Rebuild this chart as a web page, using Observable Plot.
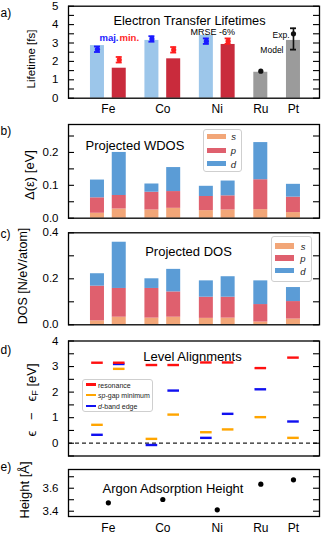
<!DOCTYPE html>
<html><head><meta charset="utf-8">
<script src="https://cdn.jsdelivr.net/npm/d3@7"></script>
<script src="https://cdn.jsdelivr.net/npm/@observablehq/plot@0.6"></script>
<style>
body{margin:0;background:#fff;font-family:"Liberation Sans",Arial,sans-serif;}
#root{position:relative;width:332px;height:534px;overflow:hidden;background:#fff;}
.panel{position:absolute;left:0;}
.ylab{position:absolute;white-space:nowrap;color:#000;line-height:1;transform:translate(-50%,-50%) rotate(-90deg);font-family:"Liberation Sans",Arial,sans-serif;}
.ylab sub{font-size:70%;vertical-align:-0.25em;line-height:0;}
.legend{position:absolute;background:#fff;border:1px solid #cfcfcf;border-radius:3px;box-sizing:border-box;}
.legend .sw{position:absolute;}
.legend .lb{position:absolute;font-style:italic;color:#222;transform:translate(-50%,-50%);}
.legend .lt{position:absolute;color:#222;transform:translateY(-50%);white-space:nowrap;}
</style></head><body><div id="root"></div>
<script>
// ---------- data ----------
const metals = ["Fe", "Co", "Ni", "Ru", "Pt"];
const spinResolved = [true, true, true, false, false];
const orbitals = ["s", "p", "d"];

// a) electron transfer lifetimes [fs]  (Fe, Co, Ni per spin channel; Ru, Pt non-magnetic)
const lifetimeMajModel = [2.86, 3.14, 3.42];
const lifetimeMinModel = [1.63, 2.14, 2.92];
const lifetimeMajExp = [2.66, 3.22, 3.10];
const lifetimeMinExp = [2.09, 2.63, 3.10];
const lifetimeSpinExpErr = 0.15;
const lifetimeModel = [1.41, 3.14];      // Ru, Pt
const lifetimeExp = [1.47, 3.50];        // Ru, Pt
const lifetimeExpLow = [null, 2.64];
const lifetimeExpHigh = [null, 3.80];

// bar order: Fe maj, Fe min, Co maj, Co min, Ni maj, Ni min, Ru, Pt
// b) projected WDOS Δ(ε) [eV]
const wdosS = [0.015, 0.028, 0.025, 0.030, 0.023, 0.025, 0.026, 0.017];
const wdosP = [0.047, 0.041, 0.054, 0.051, 0.043, 0.043, 0.091, 0.047];
const wdosD = [0.054, 0.131, 0.025, 0.073, 0.031, 0.045, 0.113, 0.039];
// c) projected DOS [N/eV/atom]
const dosS = [0.017, 0.033, 0.029, 0.033, 0.028, 0.029, 0.012, 0.025];
const dosP = [0.151, 0.125, 0.129, 0.110, 0.092, 0.091, 0.076, 0.076];
const dosD = [0.054, 0.201, 0.042, 0.098, 0.071, 0.089, 0.103, 0.061];
// d) level alignments ϵ − ϵF [eV]
const resonance = [3.15, 3.15, 3.06, 3.06, 3.16, 3.16, 2.94, 3.35];
const spGapMin  = [0.72, 2.91, 0.17, 1.12, 0.43, 0.54, 1.02, 0.21];
const dBandEdge = [0.33, 3.10, -0.07, 2.06, 0.21, 1.15, 2.11, 0.85];
// e) argon adsorption height [Å]
const arHeight = [3.473, 3.502, 3.412, 3.635, 3.673];

// tick values
const ticksA = [0, 1, 2, 3, 4, 5],      minorA = [0.5, 1.5, 2.5, 3.5, 4.5];
const ticksB = [0, 0.1, 0.2],           minorB = [0.05, 0.15, 0.25];
const ticksC = [0, 0.2, 0.4],           minorC = [0.1, 0.3];
const ticksD = [0, 1, 2, 3, 4],         minorD = [-0.5, 0.5, 1.5, 2.5, 3.5];
const ticksE = [3.4, 3.6],              minorE = [3.5, 3.7];

// ---------- layout ----------
const W = 332, ML = 68, MR = 13;
const X0 = -2.66, X1 = 20.39;
const K = (W - ML - MR) / (X1 - X0);   // px per slot unit
const HALF = 7 / K, SEG = 5.8 / K, CAP = 3 / K, TICK = 6 / K;

const slots = []; const centers = [];
{ let p = 0;
  metals.forEach((m, i) => {
    if (spinResolved[i]) { slots.push({metal: m, spin: "maj", pos: p}); slots.push({metal: m, spin: "min", pos: p + 2}); centers.push(p + 1); p += 5; }
    else { slots.push({metal: m, spin: null, pos: p}); centers.push(p); p += 3; }
  });
}
const font = "'Liberation Sans', Arial, sans-serif";
const root = document.getElementById("root");

function stackRows(parts) {
  const rows = [];
  slots.forEach((s, i) => {
    let acc = 0;
    parts.forEach((arr, j) => { rows.push({pos: s.pos, orbital: orbitals[j], y1: acc, y2: acc + arr[i]}); acc += arr[i]; });
  });
  return rows;
}

function panel(c) {
  const frameTop = c.top + c.mt;
  const all = c.major.concat(c.minor);
  const marks = [
    ...c.marks,
    Plot.ruleY(all, {y: d => d, x1: X0, x2: X0 + TICK, stroke: "#000", strokeWidth: 1.1}),
    Plot.ruleY(all, {y: d => d, x1: X1 - TICK, x2: X1, stroke: "#000", strokeWidth: 1.1}),
    Plot.axisY({ticks: c.major, tickSize: 0, tickPadding: 10, tickFormat: c.fmt, label: null, fontSize: 11.5}),
    Plot.text([c.tag], {text: d => d, frameAnchor: "top-left", dx: -ML, dy: c.tagY - frameTop, textAnchor: "start", fontSize: 12}),
    Plot.frame({stroke: "#000", strokeWidth: 1.3})
  ];
  if (c.xpad != null) marks.push(Plot.axisX({ticks: centers, tickSize: 0, tickPadding: c.xpad, tickFormat: d => metals[centers.indexOf(d)], label: null, fontSize: 12}));
  const svg = Plot.plot({
    width: W, height: c.height, marginLeft: ML, marginRight: MR, marginTop: c.mt, marginBottom: c.mb,
    x: c.xpad != null ? {domain: [X0, X1]} : {domain: [X0, X1], axis: null},
    y: {domain: c.domain},
    style: {fontFamily: font, fontSize: "11.5px", background: "transparent", overflow: "visible", color: "#000"},
    marks
  });
  const div = document.createElement("div");
  div.className = "panel"; div.style.top = c.top + "px";
  div.appendChild(svg); root.appendChild(div);
  // rotated y-axis title
  const lab = document.createElement("div");
  lab.className = "ylab";
  Object.assign(lab.style, {left: c.ylx + "px", top: c.yly + "px", fontSize: c.yls + "px"});
  lab.innerHTML = c.ylabelHtml || c.ylabel;
  root.appendChild(lab);
  return svg;
}

// ---------- a) ----------
const majSlots = slots.filter(s => s.spin === "maj"), minSlots = slots.filter(s => s.spin === "min"), nmSlots = slots.filter(s => s.spin === null);
const aMaj = majSlots.map((s, i) => ({pos: s.pos, model: lifetimeMajModel[i], exp: lifetimeMajExp[i], lo: lifetimeMajExp[i] - lifetimeSpinExpErr, hi: lifetimeMajExp[i] + lifetimeSpinExpErr}));
const aMin = minSlots.map((s, i) => ({pos: s.pos, model: lifetimeMinModel[i], exp: lifetimeMinExp[i], lo: lifetimeMinExp[i] - lifetimeSpinExpErr, hi: lifetimeMinExp[i] + lifetimeSpinExpErr}));
const aNm = nmSlots.map((s, i) => ({pos: s.pos, model: lifetimeModel[i], exp: lifetimeExp[i], lo: lifetimeExpLow[i], hi: lifetimeExpHigh[i]}));
const aNmErr = aNm.filter(d => d.lo != null);
function errMarks(data, color) {
  return [
    Plot.ruleX(data, {x: "pos", y1: "lo", y2: "hi", stroke: color, strokeWidth: 1.6}),
    Plot.ruleY(data, {x1: d => d.pos - CAP, x2: d => d.pos + CAP, y: "lo", stroke: color, strokeWidth: 1.8}),
    Plot.ruleY(data, {x1: d => d.pos - CAP, x2: d => d.pos + CAP, y: "hi", stroke: color, strokeWidth: 1.8}),
  ];
}
const blueM = "#1a1aff", redM = "#ff1f1f";
panel({
  top: 0, height: 118, mt: 5.7, mb: 20.3, domain: [0, 5], major: ticksA, minor: minorA, fmt: d => String(d),
  ylabel: "Lifetime [fs]", ylx: 32, yly: 58.5, yls: 11.5, tag: "a)", tagY: 8, xpad: 6,
  marks: [
    Plot.rect(aMaj, {x1: d => d.pos - HALF, x2: d => d.pos + HALF, y1: 0, y2: "model", fill: "#9cc6ea"}),
    Plot.rect(aMin, {x1: d => d.pos - HALF, x2: d => d.pos + HALF, y1: 0, y2: "model", fill: "#c92b3c"}),
    Plot.rect(aNm, {x1: d => d.pos - HALF, x2: d => d.pos + HALF, y1: 0, y2: "model", fill: "#9b9b9b"}),
    ...errMarks(aMaj, blueM), Plot.dot(aMaj, {x: "pos", y: "exp", r: 2.6, fill: blueM}),
    ...errMarks(aMin, redM), Plot.dot(aMin, {x: "pos", y: "exp", r: 2.6, fill: redM}),
    ...errMarks(aNmErr, "#111"), Plot.dot(aNm, {x: "pos", y: "exp", r: 2.6, fill: "#111"}),
    Plot.text(["Electron Transfer Lifetimes"], {text: d => d, frameAnchor: "top", dx: -4.5, dy: 9.5, fontSize: 12.8}),
    Plot.text(["maj."], {text: d => d, frameAnchor: "top-left", dx: 31, dy: 27.6, fontSize: 9.5, fontWeight: "bold", fill: "#1a1aff"}),
    Plot.text(["min."], {text: d => d, frameAnchor: "top-left", dx: 51, dy: 27.6, fontSize: 9.5, fontWeight: "bold", fill: "#ff1f1f"}),
    Plot.text(["MRSE -6%"], {text: d => d, frameAnchor: "top-left", dx: 122, dy: 22.8, fontSize: 9}),
    Plot.text(["Exp."], {text: d => d, frameAnchor: "top-left", dx: 221, dy: 25.3, fontSize: 8.5, textAnchor: "end"}),
    Plot.text(["Model"], {text: d => d, frameAnchor: "top-left", dx: 215, dy: 40.5, fontSize: 8.5, textAnchor: "end"})
  ]
});

// ---------- b), c) ----------
const orbColor = {s: "#f2a678", p: "#df606e", d: "#5b9cd6"};
function stackMarks(rows) {
  return orbitals.map(o => Plot.rect(rows.filter(r => r.orbital === o), {x1: d => d.pos - HALF, x2: d => d.pos + HALF, y1: "y1", y2: "y2", fill: orbColor[o]}));
}
panel({
  top: 118, height: 103.7, mt: 6, mb: 4, domain: [0, 0.285], major: ticksB, minor: minorB, fmt: d3.format(".1f"),
  ylabel: "Δ(ε) [eV]", ylx: 28.5, yly: 175, yls: 13, tag: "b)", tagY: 125.5,
  marks: [
    ...stackMarks(stackRows([wdosS, wdosP, wdosD])),
    Plot.text(["Projected WDOS"], {text: d => d, frameAnchor: "top-left", dx: 17, dy: 16, textAnchor: "start", fontSize: 13})
  ]
});
panel({
  top: 222, height: 105.8, mt: 10.3, mb: 3.5, domain: [0, 0.4], major: ticksC, minor: minorC, fmt: d3.format(".1f"),
  ylabel: "DOS [N/eV/atom]", ylx: 22.5, yly: 276, yls: 12.5, tag: "c)", tagY: 229,
  marks: [
    ...stackMarks(stackRows([dosS, dosP, dosD])),
    Plot.text(["Projected DOS"], {text: d => d, frameAnchor: "top", dx: -5.5, dy: 13.7, fontSize: 13})
  ]
});

// ---------- d) ----------
const levelColor = {resonance: "#ff1010", sp: "#ffa500", d: "#1010f0"};
const levelRows = (arr) => slots.map((s, i) => ({pos: s.pos, v: arr[i]}));
function segMarks(arr, color) { return Plot.ruleY(levelRows(arr), {x1: d => d.pos - SEG, x2: d => d.pos + SEG, y: "v", stroke: color, strokeWidth: 2.4}); }
panel({
  top: 328, height: 131, mt: 12.5, mb: 3.5, domain: [-0.5, 4], major: ticksD, minor: minorD, fmt: d => String(d),
  ylabel: "ϵ − ϵF [eV]", ylabelHtml: "ϵ&nbsp;&nbsp; −&nbsp;&nbsp; ϵ<sub>F</sub> [eV]",
  ylx: 31, yly: 400, yls: 13, tag: "d)", tagY: 345,
  marks: [
    Plot.ruleY([0], {stroke: "#222", strokeWidth: 1.2, strokeDasharray: "4,3"}),
    segMarks(spGapMin, levelColor.sp),
    segMarks(dBandEdge, levelColor.d),
    segMarks(resonance, levelColor.resonance),
    Plot.text(["Level Alignments"], {text: d => d, frameAnchor: "top", dx: -1.5, dy: 10.5, fontSize: 13})
  ]
});

// ---------- e) ----------
const eRows = metals.map((m, i) => ({pos: centers[i], h: arHeight[i]}));
panel({
  top: 459, height: 75, mt: 10, mb: 18, domain: [3.354, 3.763], major: ticksE, minor: minorE, fmt: d3.format(".1f"),
  ylabel: "Height [Å]", ylx: 23.5, yly: 490, yls: 13, tag: "e)", tagY: 461.5, xpad: 7,
  marks: [
    Plot.dot(eRows, {x: "pos", y: "h", r: 2.6, fill: "#000"}),
    Plot.text(["Argon Adsorption Height"], {text: d => d, frameAnchor: "top", dx: -21, dy: 14.3, fontSize: 13})
  ]
});

// ---------- in-frame legends ----------
function legendBox(left, top, w, h, rows) {
  const box = document.createElement("div");
  box.className = "legend";
  Object.assign(box.style, {left: left + "px", top: top + "px", width: w + "px", height: h + "px"});
  rows.forEach(r => {
    const sw = document.createElement("div"); sw.className = "sw";
    Object.assign(sw.style, {left: r.sx + "px", top: (r.cy - r.sh / 2) + "px", width: r.sw + "px", height: r.sh + "px", background: r.color});
    box.appendChild(sw);
    const lb = document.createElement("div"); lb.className = r.cls;
    Object.assign(lb.style, {left: r.tx + "px", top: r.cy + "px", fontSize: r.fs + "px"});
    lb.innerHTML = r.html; box.appendChild(lb);
  });
  root.appendChild(box);
}
legendBox(203, 129.3, 38.5, 43, orbitals.map((o, i) => ({sx: 3, sw: 19, sh: 5.5, cy: [6, 20, 33.3][i], color: orbColor[o], tx: 29.5, fs: 9.5, cls: "lb", html: o})));
legendBox(270.5, 235.7, 41.5, 46, orbitals.map((o, i) => ({sx: 3.5, sw: 18.5, sh: 5.5, cy: [9.5, 21.5, 34][i], color: orbColor[o], tx: 31.5, fs: 9.5, cls: "lb", html: o})));
const levelLegend = [["resonance", levelColor.resonance], ["<i>sp</i>-gap minimum", levelColor.sp], ["<i>d</i>-band edge", levelColor.d]];
legendBox(82, 379, 71, 33, levelLegend.map(([t, c], i) => ({sx: 3, sw: 10, sh: 2.4, cy: [4.5, 15, 26][i], color: c, tx: 15, fs: 7, cls: "lt", html: t})));
</script></body></html>
